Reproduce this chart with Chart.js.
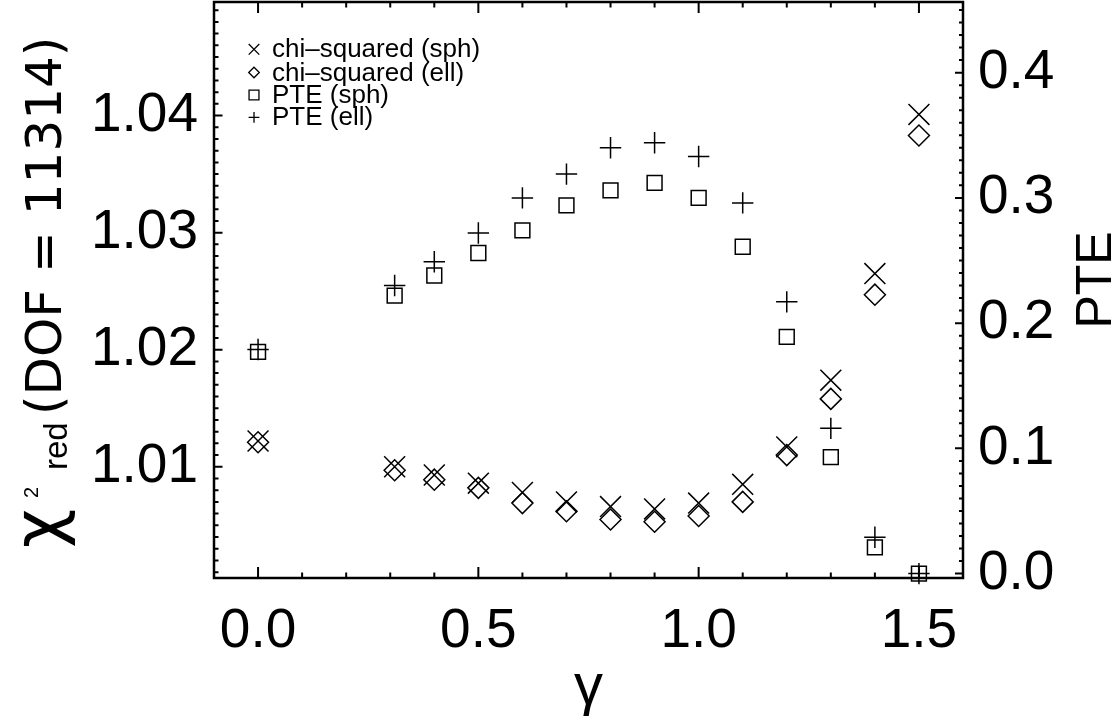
<!DOCTYPE html>
<html>
<head>
<meta charset="utf-8">
<script src="https://cdn.jsdelivr.net/npm/chart.js@4/dist/chart.umd.min.js"></script>
<style>
html,body{margin:0;padding:0;background:#fff;}
#wrap{width:1114px;height:721px;position:relative;}
</style>
</head>
<body>
<div id="wrap"><canvas id="c" width="1114" height="721"></canvas></div>
<script>
// ---- data ----
const gamma  = [0.0, 0.31, 0.4, 0.5, 0.6, 0.7, 0.8, 0.9, 1.0, 1.1, 1.2, 1.3, 1.4, 1.5];
const chiSph = [1.0122, 1.0100, 1.0093, 1.0086, 1.0078, 1.0070, 1.0066, 1.0064, 1.0069, 1.0085, 1.0117, 1.0174, 1.0265, 1.0401];
const chiEll = [1.0121, 1.0097, 1.0089, 1.0082, 1.0069, 1.0062, 1.0055, 1.0053, 1.0058, 1.0070, 1.0110, 1.0158, 1.0247, 1.0383];
const pteSph = [0.177, 0.222, 0.238, 0.256, 0.274, 0.294, 0.306, 0.312, 0.300, 0.261, 0.189, 0.093, 0.021, 0.000];
const pteEll = [0.179, 0.230, 0.249, 0.272, 0.300, 0.319, 0.340, 0.344, 0.333, 0.296, 0.217, 0.116, 0.029, 0.000];

const seriesLabels = ['chi\u2013squared (sph)', 'chi\u2013squared (ell)', 'PTE (sph)', 'PTE (ell)'];

// ---- axes ----
const xMajorTicks   = [0.0, 0.5, 1.0, 1.5];
const xTickLabels   = ['0.0', '0.5', '1.0', '1.5'];
const chiMajorTicks = [1.01, 1.02, 1.03, 1.04];
const chiTickLabels = ['1.01', '1.02', '1.03', '1.04'];
const pteMajorTicks = [0.0, 0.1, 0.2, 0.3, 0.4];
const pteTickLabels = ['0.0', '0.1', '0.2', '0.3', '0.4'];
const xRange   = [-0.1, 1.6];
const chiRange = [1.0005, 1.0497];
const pteRange = [-0.0035, 0.4564];

// minor tick values (integer steps to avoid float drift)
const xMinorTicks = []; for (let i = 0; i <= 15; i++) xMinorTicks.push({v: i / 10, major: i % 5 === 0});
const chiMinorTicks = []; for (let i = 1001; i <= 1049; i++) chiMinorTicks.push({v: i / 1000, major: i % 10 === 0});
const pteMinorTicks = []; for (let i = 0; i <= 45; i++) pteMinorTicks.push({v: i / 100, major: i % 10 === 0});

const FONT = "'Liberation Sans', Arial, Helvetica, sans-serif";
const WIDE = "'DejaVu Sans', 'Liberation Sans', sans-serif";

function pts(ys) { return gamma.map((g, i) => ({x: g, y: ys[i]})); }
function labelFor(arrV, arrL) {
  return function (v) {
    for (let i = 0; i < arrV.length; i++) if (Math.abs(arrV[i] - v) < 1e-9) return arrL[i];
    return '';
  };
}
function noPad(s) { s.paddingTop = 0; s.paddingBottom = 0; s.paddingLeft = 0; s.paddingRight = 0; }

const framePlugin = {
  id: 'idlFrame',
  afterDatasetsDraw(chart) {
    const {ctx, chartArea: a, scales} = chart;
    ctx.save();
    ctx.strokeStyle = '#000';
    ctx.lineWidth = 2;
    ctx.beginPath();
    xMinorTicks.forEach(t => {
      const p = scales.x.getPixelForValue(t.v);
      const L = t.major ? 11 : 5.5;
      ctx.moveTo(p, a.bottom); ctx.lineTo(p, a.bottom - L);
      ctx.moveTo(p, a.top); ctx.lineTo(p, a.top + L);
    });
    chiMinorTicks.forEach(t => {
      const p = scales.y.getPixelForValue(t.v);
      const L = t.major ? 8.5 : 4.5;
      ctx.moveTo(a.left, p); ctx.lineTo(a.left + L, p);
    });
    pteMinorTicks.forEach(t => {
      const p = scales.y2.getPixelForValue(t.v);
      if (p < a.top + 1) return;
      const L = t.major ? 8 : 4;
      ctx.moveTo(a.right, p); ctx.lineTo(a.right - L, p);
    });
    ctx.stroke();
    ctx.lineWidth = 2.5;
    ctx.strokeRect(a.left, a.top, a.right - a.left, a.bottom - a.top);
    ctx.restore();
  },
  afterDraw(chart) {
    const {ctx} = chart;
    ctx.save();
    ctx.fillStyle = '#000';
    // legend
    const legSizes = [7.5, 5.3, 7.0, 5.4];
    const rowY = [49.3, 72.5, 95, 117.3];
    ctx.font = "26px " + FONT;
    ctx.textBaseline = 'middle';
    ctx.textAlign = 'left';
    chart.data.datasets.forEach((ds, i) => {
      const opts = {pointStyle: ds.pointStyle, radius: legSizes[i], rotation: 0, borderWidth: 1.3};
      ctx.strokeStyle = '#000';
      ctx.lineWidth = 1.3;
      ctx.fillStyle = 'rgba(0,0,0,0)';
      Chart.helpers.drawPoint(ctx, opts, 254, rowY[i]);
      ctx.fillStyle = '#000';
      ctx.fillText(ds.label, 272, rowY[i] + 1);
    });
    // left axis title: chi^2_red (DOF = 11314), rotated, reading upward
    ctx.translate(61, 546);
    ctx.rotate(-Math.PI / 2);
    ctx.textBaseline = 'alphabetic';
    ctx.font = "68px " + WIDE;
    ctx.fillText('\u03c7', -2, 0);
    ctx.font = "20px " + FONT;
    ctx.fillText('2', 48, -23);
    ctx.font = "33px " + FONT;
    ctx.fillText('red', 76, 6);
    ctx.font = "50px " + WIDE;
    ctx.fillText('(DOF = 11314)', 131, 0);
    ctx.restore();
    // right axis title
    ctx.save();
    ctx.fillStyle = '#000';
    ctx.translate(1111, 280);
    ctx.rotate(-Math.PI / 2);
    ctx.font = "50px " + FONT;
    ctx.textAlign = 'center';
    ctx.textBaseline = 'alphabetic';
    ctx.fillText('PTE', 0, 0);
    ctx.restore();
  }
};

const common = {showLine: false, borderColor: '#000', backgroundColor: 'rgba(0,0,0,0)',
  pointBorderColor: '#000', pointBackgroundColor: 'rgba(0,0,0,0)', pointBorderWidth: 1.5, clip: false};

new Chart(document.getElementById('c'), {
  type: 'scatter',
  data: {
    datasets: [
      Object.assign({label: seriesLabels[0], data: pts(chiSph), yAxisID: 'y', pointStyle: 'crossRot', pointRadius: 14.8}, common),
      Object.assign({label: seriesLabels[1], data: pts(chiEll), yAxisID: 'y', pointStyle: 'rectRot', pointRadius: 10.5}, common),
      Object.assign({label: seriesLabels[2], data: pts(pteSph), yAxisID: 'y2', pointStyle: 'rect', pointRadius: 10.5}, common),
      Object.assign({label: seriesLabels[3], data: pts(pteEll), yAxisID: 'y2', pointStyle: 'cross', pointRadius: 10.7}, common)
    ]
  },
  options: {
    responsive: false,
    animation: false,
    events: [],
    layout: {autoPadding: false, padding: {top: 2, left: 0, right: 0, bottom: 0}},
    plugins: {legend: {display: false}, tooltip: {enabled: false}},
    scales: {
      x: {
        type: 'linear', position: 'bottom', min: xRange[0], max: xRange[1],
        afterBuildTicks: s => { s.ticks = xMajorTicks.map(v => ({value: v})); },
        afterFit: s => { s.height = 143; noPad(s); },
        grid: {display: false, drawTicks: false},
        border: {display: false},
        ticks: {autoSkip: false, maxRotation: 0, padding: 21, color: '#000',
          font: {family: FONT, size: 55}, callback: labelFor(xMajorTicks, xTickLabels)},
        title: {display: true, text: '\u03b3', color: '#000', font: {family: FONT, size: 58, lineHeight: 1}, padding: {top: 0, bottom: 4}}
      },
      y: {
        type: 'linear', position: 'left', min: chiRange[0], max: chiRange[1],
        afterBuildTicks: s => { s.ticks = chiMajorTicks.map(v => ({value: v})); },
        afterFit: s => { s.width = 214; noPad(s); },
        grid: {display: false, drawTicks: false},
        border: {display: false},
        ticks: {autoSkip: false, padding: 16, color: '#000',
          font: {family: FONT, size: 55}, callback: labelFor(chiMajorTicks, chiTickLabels)}
      },
      y2: {
        type: 'linear', position: 'right', min: pteRange[0], max: pteRange[1],
        afterBuildTicks: s => { s.ticks = pteMajorTicks.map(v => ({value: v})); },
        afterFit: s => { s.width = 151; noPad(s); },
        grid: {display: false, drawTicks: false},
        border: {display: false},
        ticks: {autoSkip: false, padding: 15, color: '#000',
          font: {family: FONT, size: 55}, callback: labelFor(pteMajorTicks, pteTickLabels)}
      }
    }
  },
  plugins: [framePlugin]
});
</script>
</body>
</html>
